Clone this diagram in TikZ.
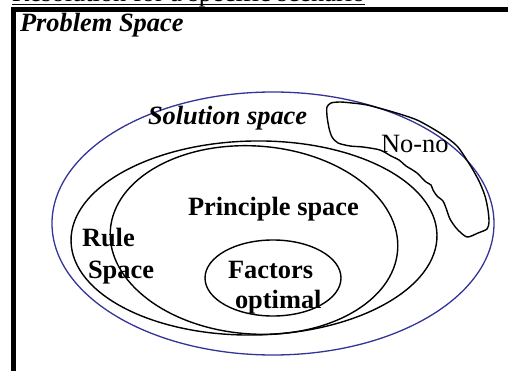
\documentclass[tikz,border=0pt]{standalone}
\usepackage{fontspec}
\setmainfont{Liberation Serif}
\usetikzlibrary{shapes.geometric}
\definecolor{solblue}{RGB}{51,51,153}
\begin{document}
\begin{tikzpicture}[x=1pt,y=-1pt,
  lbl/.style={inner sep=0pt, outer sep=0pt, anchor=base west, font=\fontsize{26.4}{30}\selectfont},
  lblb/.style={lbl, font=\fontsize{26.4}{30}\selectfont\bfseries},
  lblbi/.style={lbl, font=\fontsize{26.4}{30}\selectfont\bfseries\itshape},
  space/.style={ellipse, draw=black, line width=1.4pt, inner sep=0pt, fill=none},
  bluespace/.style={ellipse, draw=solblue, line width=1.3pt, inner sep=0pt},
  frame/.style={line width=5pt, line join=miter, line cap=butt}]
\useasboundingbox (0,0) rectangle (508,371);
\clip (0,0) rectangle (508,371);
% title (cropped at top, as in the reference)
\node[lbl] (title) at (12,1.2) {Resolution for a specific scenario};
\draw[line width=1.3pt] ([yshift=-3.2pt]title.base west) -- ([yshift=-3.2pt]title.base east);
% frame
\draw[frame] (13.5,380) -- (13.5,9.5) -- (520,9.5);
\node[lblbi] (problem) at (20,32) {Problem Space};
% solution space
\node[bluespace, minimum width=442pt, minimum height=263pt] (sol) at (273,223.5) {};
% rule space
\node[space, minimum width=366pt, minimum height=194pt, rotate=1] (rule) at (254,238) {};
% principle space
\node[space, minimum width=288pt, minimum height=188pt, rotate=-4] (prin) at (254,240) {};
% factors optimal
\node[space, minimum width=136pt, minimum height=76pt] (fact) at (273,278) {};
% no-no blob
\draw[line width=1.4pt] plot[smooth cycle, tension=0.45] coordinates {
 (327,107) (331,103) (340,102) (352,103) (367,105) (393,112) (417,120) (440,133)
 (457,146) (470,165) (479,181) (485,196) (488,210) (489,222) (487,229) (478,233)
 (467,237) (457,229) (450,219) (446,208) (443,201) (437,196) (433,190) (431,185)
 (426,182) (421,177) (417,173) (411,169) (406,166) (399,160) (391,156) (380,150)
 (363,147) (350,146) (338,143) (332,137) (329,128) (327,116)};
% labels
\node[lblbi] (soltxt) at (148,125) {Solution space};
\node[lbl] (nono) at (381,153) {No-no};
\node[lblb] (printxt) at (188,215) {Principle space};
\node[lblb] (rule1) at (82,247) {Rule};
\node[lblb] (rule2) at (88,278) {Space};
\node[lblb] (fact1) at (228,278) {Factors};
\node[lblb] (fact2) at (235,308) {optimal};
\end{tikzpicture}
\end{document}
